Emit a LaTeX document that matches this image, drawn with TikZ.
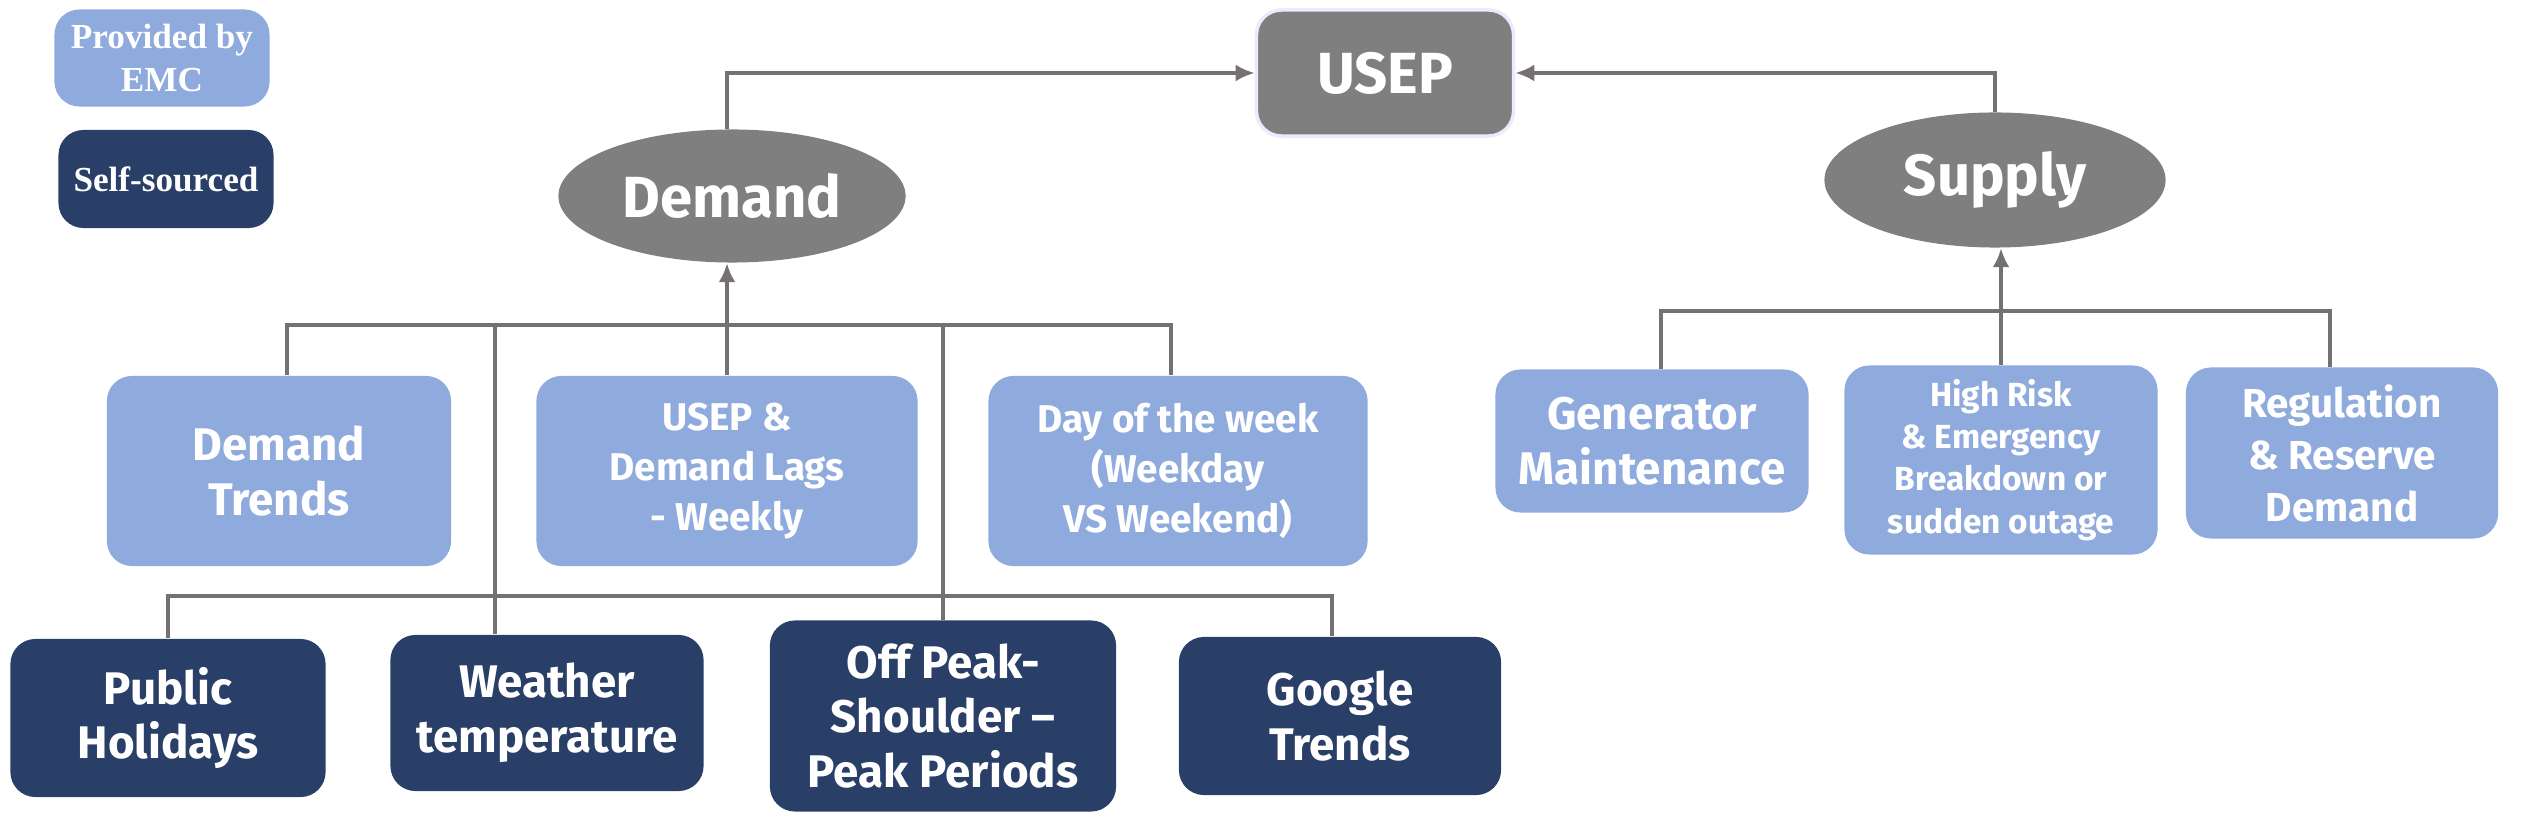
\documentclass[tikz,border=0pt]{standalone}
\usepackage{fontspec}
\setmainfont{Liberation Serif}
\setsansfont{Fira Sans}
\usetikzlibrary{shapes, arrows.meta, positioning, calc}
\definecolor{emcblue}{HTML}{8FAADC}
\definecolor{selfblue}{HTML}{2A3F68}
\definecolor{hubgrey}{HTML}{7F7F7F}
\definecolor{linegrey}{HTML}{767171}

\begin{document}
\begin{tikzpicture}[>={Latex[length=1.9mm, width=1.7mm]}, x=0.01cm, y=-0.01cm]
\tikzset{
    emc/.style={rectangle, rounded corners=0.25cm, fill=emcblue, text=white, align=center, inner sep=0pt},
    selfbox/.style={emc, fill=selfblue},
    target/.style={emc, fill=hubgrey, draw=blue!8, line width=1pt},
    hub/.style={ellipse, fill=hubgrey, text=white, inner sep=0pt},
    legend/.style={font=\bfseries\fontsize{10}{12}\selectfont},
    big/.style={font=\sffamily\bfseries\fontsize{16.5}{20}\selectfont},
    mid/.style={font=\sffamily\bfseries\fontsize{13}{15.6}\selectfont},
    small/.style={font=\sffamily\bfseries\fontsize{11}{14.2}\selectfont},
    reg/.style={font=\sffamily\bfseries\fontsize{11.5}{14.8}\selectfont},
    tiny/.style={font=\sffamily\bfseries\fontsize{9.5}{12}\selectfont},
    line/.style={draw=linegrey, line width=1pt}
}
\useasboundingbox (0,0) rectangle (2525,819);

% --- Legend (Top Left) ---
\node (legEMC) at (162,58) [emc, legend, minimum width=2.15cm, minimum height=0.97cm] {Provided by\\EMC};
\node (legSelf) at (166,179) [selfbox, legend, minimum width=2.15cm, minimum height=0.98cm] {Self-sourced};

% --- Target and drivers ---
\node (usep) at (1385,73) [target, big, minimum width=2.57cm, minimum height=1.26cm] {USEP};
\node (demand) at (732,196) [hub, big, minimum width=3.47cm, minimum height=1.33cm] {Demand};
\node (supply) at (1995,180) [hub, big, minimum width=3.41cm, minimum height=1.35cm] {Supply};

% --- Demand factors, provided by EMC ---
\node (trends) at (279,471) [emc, mid, minimum width=3.44cm, minimum height=1.9cm] {Demand\\Trends};
\node (lags) at (727,471) [emc, small, minimum width=3.81cm, minimum height=1.9cm] {USEP \&\\Demand Lags\\- Weekly};
\node (week) at (1178,471) [emc, small, minimum width=3.79cm, minimum height=1.9cm] {Day of the week\\(Weekday\\VS Weekend)};

% --- Demand factors, self-sourced ---
\node (holiday) at (168,718) [selfbox, mid, minimum width=3.15cm, minimum height=1.58cm] {Public\\Holidays};
\node (weather) at (547,713) [selfbox, mid, minimum width=3.13cm, minimum height=1.56cm] {Weather\\temperature};
\node (period) at (943,716) [selfbox, mid, minimum width=3.46cm, minimum height=1.91cm] {Off Peak-\\Shoulder –\\Peak Periods};
\node (google) at (1340,716) [selfbox, mid, minimum width=3.22cm, minimum height=1.58cm] {Google\\Trends};

% --- Supply factors ---
\node (maint) at (1652,441) [emc, mid, minimum width=3.13cm, minimum height=1.43cm] {Generator\\Maintenance};
\node (outage) at (2001,460) [emc, tiny, minimum width=3.13cm, minimum height=1.89cm] {High Risk\\\& Emergency\\Breakdown or\\sudden outage};
\node (reserve) at (2342,453) [emc, reg, minimum width=3.12cm, minimum height=1.71cm] {Regulation\\\& Reserve\\Demand};

% bus levels
\coordinate (dbus) at (0,325);
\coordinate (lbus) at (0,596);
\coordinate (sbus) at (0,311);

% --- Into USEP ---
\draw[line, ->] (lags.north |- demand.north) |- (usep.west);
\draw[line, ->] (supply.north) |- (usep.east);

% --- Demand tree ---
\draw[line] ([xshift=0.8mm]trends.north) -- ([xshift=0.8mm]trends.north |- dbus) -| ([xshift=-0.7mm]week.north);
\draw[line, ->] (lags.north) -- (lags.north |- demand.south);
\draw[line] ([xshift=-5.2mm]weather.north) -- ([xshift=-5.2mm]weather.north |- dbus);
\draw[line] (period.north) -- (period.north |- dbus);
\draw[line] (holiday.north) -- (holiday.north |- lbus) -| ([xshift=-0.8mm]google.north); % lower bus

% --- Supply tree ---
\draw[line] ([xshift=0.9mm]maint.north) -- ([xshift=0.9mm]maint.north |- sbus) -| ([xshift=-1.2mm]reserve.north);
\draw[line, ->] (outage.north) -- (outage.north |- supply.south);

\end{tikzpicture}
\end{document}
